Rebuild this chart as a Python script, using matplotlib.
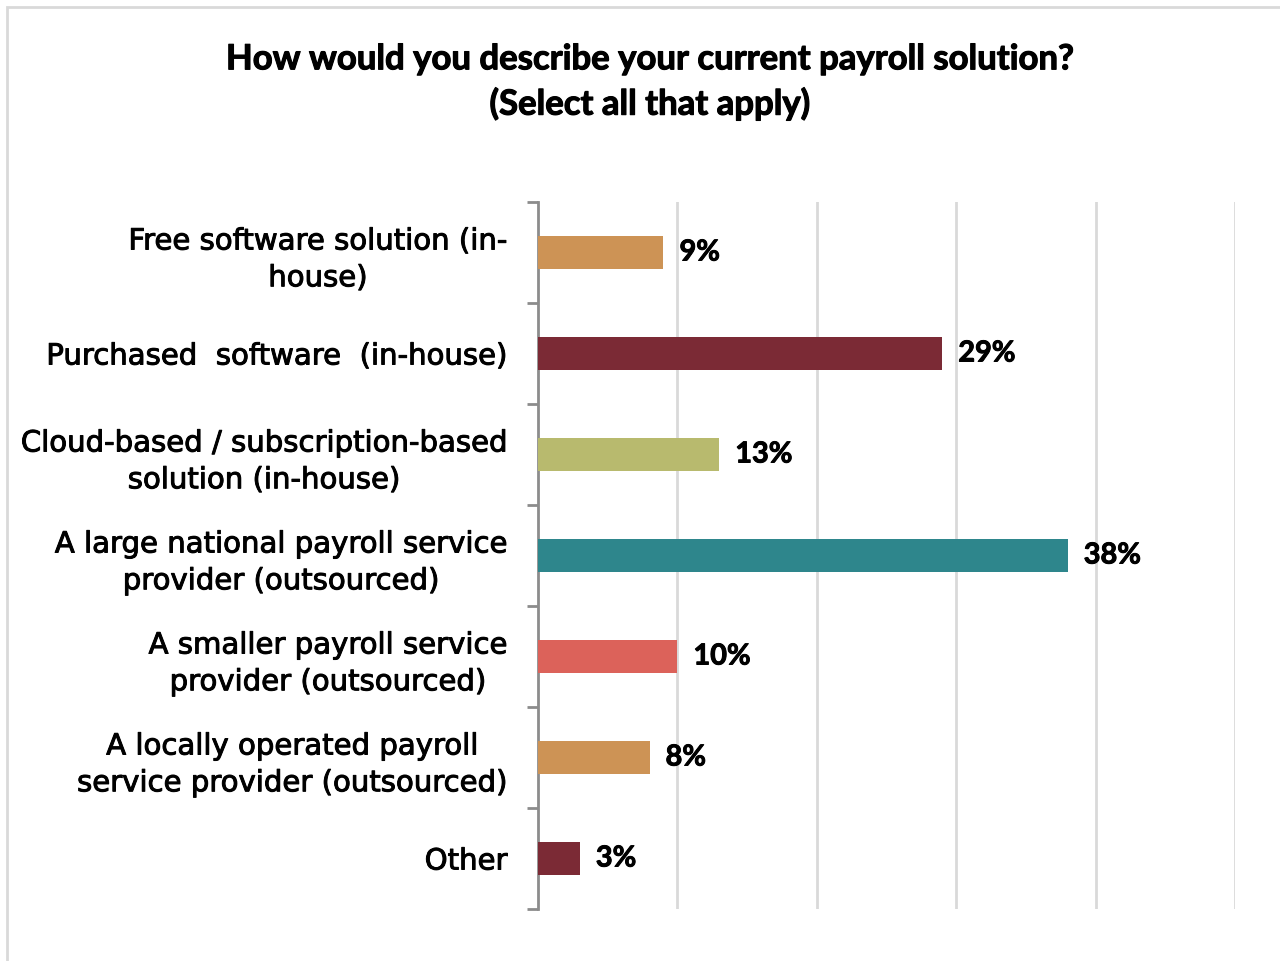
import matplotlib
matplotlib.use("Agg")
import matplotlib.pyplot as plt
import matplotlib.patheffects as pe
from matplotlib import font_manager as fm
from matplotlib.patches import Rectangle

# survey answers, top to bottom
categories = [
    "Free software solution (in-\nhouse)",
    "Purchased  software  (in-house)",
    "Cloud-based / subscription-based\nsolution (in-house)",
    "A large national payroll service\nprovider (outsourced)",
    "A smaller payroll service\nprovider (outsourced)",
    "A locally operated payroll\nservice provider (outsourced)",
    "Other",
]
values = [9, 29, 13, 38, 10, 8, 3]
colors = ["#CD9355", "#7B2A35", "#B8BA6E", "#2E868C", "#DC625A", "#CD9355", "#7B2A35"]

title = "How would you describe your current payroll solution?\n(Select all that apply)"


def lato_bold(size):
    # pick the plain Lato Bold file so the weight lookup can't drift
    for f in fm.fontManager.ttflist:
        if f.name == "Lato" and f.style == "normal" and f.weight in (700, "bold"):
            return fm.FontProperties(fname=f.fname, size=size)
    return fm.FontProperties(family="Lato", weight="bold", size=size)


def thicken(w):
    return [pe.withStroke(linewidth=w, foreground="black")]


fig = plt.figure(figsize=(12.8, 9.62), dpi=100)
ax = fig.add_axes([538 / 1280, 52 / 962, (1235 - 538) / 1280, (910 - 203) / 962])

ypos = list(range(len(categories)))
ax.barh(ypos, values, height=0.32, color=colors, zorder=3)

val_font = lato_bold(20.8)
for y, v in zip(ypos, values):
    ax.text(v + 1.15, y, f"{v}%", va="center", ha="left",
            fontproperties=val_font, color="black", path_effects=thicken(0.7))

ax.set_xlim(0, 50)
ax.set_ylim(len(categories) - 0.5, -0.5)

# gridlines
ax.set_xticks([10, 20, 30, 40, 50])
ax.xaxis.grid(True, color="#D9D9D9", linewidth=2, zorder=0)
ax.tick_params(axis="x", length=0, labelbottom=False)

# category labels on major ticks, boundary ticks as minor
ax.set_yticks(ypos)
ax.set_yticklabels(categories, fontsize=21, family="DejaVu Sans",
                   multialignment="center", linespacing=1.4, color="black")
for lbl in ax.get_yticklabels():
    lbl.set_path_effects(thicken(0.7))
ax.tick_params(axis="y", which="major", length=0, pad=22)
ax.set_yticks([i - 0.5 for i in range(len(categories) + 1)], minor=True)
ax.tick_params(axis="y", which="minor", length=8, width=2, color="#8C8C8C")

for s in ["top", "right", "bottom"]:
    ax.spines[s].set_visible(False)
ax.spines["left"].set_color("#8C8C8C")
ax.spines["left"].set_linewidth(2)

fig.text(650 / 1280, 1 - 83 / 962, title, ha="center", va="center",
         fontproperties=lato_bold(25), linespacing=1.45, path_effects=thicken(0.8))

# outer chart border
fig.patches.append(Rectangle((7 / 1280, -0.05), 1.2, 1 - 8 / 962 + 0.05,
                             transform=fig.transFigure, fill=False,
                             edgecolor="#D9D9D9", linewidth=2))

fig.savefig("out.png", dpi=100, facecolor="white")
